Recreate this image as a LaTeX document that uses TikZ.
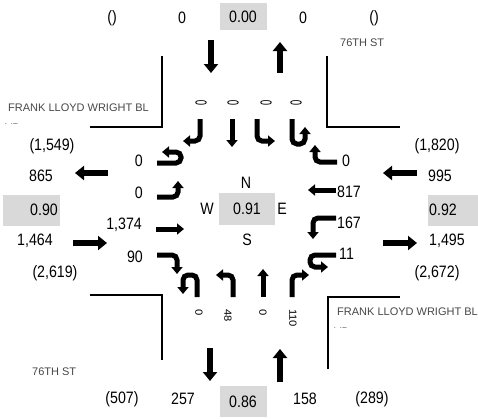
\documentclass[tikz,border=0pt]{standalone}
\usepackage{fontspec}
\usepackage{graphicx}
\setmainfont{Liberation Sans}[FakeStretch=0.86]
\newfontfamily\streetfont{Liberation Sans}
\usetikzlibrary{arrows.meta}
\tikzset{
  lbl/.style={font=\fontsize{16.5}{16.5}\selectfont, inner sep=0pt},
  gbox/.style={fill=black!15, minimum width=47pt, minimum height=27pt, inner sep=0pt, font=\fontsize{16.5}{16.5}\selectfont},
  rlbl/.style={font=\fontsize{13}{13}\selectfont, inner sep=0pt},
  tlbl/.style={font=\fontsize{16}{16}\selectfont, inner sep=0pt},
  street/.style={font=\streetfont\fontsize{11}{11}\selectfont, text=black!72, inner sep=0pt},
  curb/.style={line width=1.4pt},
  bigarrow/.style={line width=6.5pt, -{Triangle[width=14pt,length=9pt]}},
  tarrow/.style={line width=5pt, rounded corners=5pt, -{Triangle[width=11pt,length=7pt]}},
}
\begin{document}
\begin{tikzpicture}[x=1pt,y=-1pt]
\useasboundingbox (0,0) rectangle (478,418);
% curbs
\draw[curb] (162,56) -- (162,127) -- (90,127);
\draw[curb] (327,56) -- (327,127) -- (400,127);
\draw[curb] (90,295) -- (162,295) -- (162,360);
\draw[curb] (328,369) -- (328,297) -- (400,297);
% street names
\node[street, anchor=west] (fl1) at (8,108) {FRANK LLOYD WRIGHT BL};
\begin{scope}
  \clip (0,0) rectangle (160,123.5);
  \node[street, anchor=west] (vd1) at (5,128) {VD};
\end{scope}
\node[street, anchor=west] (fl2) at (337,312) {FRANK LLOYD WRIGHT BL};
\begin{scope}
  \clip (300,300) rectangle (478,327.5);
  \node[street, anchor=west] (vd2) at (334,332) {VD};
\end{scope}
\node[street, anchor=west] (st1) at (340,43) {76TH ST};
\node[street, anchor=west] (st2) at (32,372) {76TH ST};
% top row
\node[lbl] (t1) at (112,18) {()};
\node[lbl] (t2) at (182,18) {0};
\node[gbox] (t3) at (243,16.5) {0.00};
\node[lbl] (t4) at (303,18) {0};
\node[lbl] (t5) at (374,18) {()};
% bottom row
\node[lbl] (b1) at (122,399) {(507)};
\node[lbl] (b2) at (183,399) {257};
\node[gbox, minimum height=31pt] (b3) at (243,401.5) {0.86};
\node[lbl] (b4) at (305,399) {158};
\node[lbl] (b5) at (372,399) {(289)};
% left outer
\node[lbl] (l1) at (52,146) {(1,549)};
\node[lbl] (l2) at (41,176) {865};
\node[gbox, minimum width=57pt, minimum height=31pt] (l3) at (31.5,210) {};
\node[lbl, anchor=east] (l3t) at (58,210) {0.90};
\node[lbl] (l4) at (35,241) {1,464};
\node[lbl] (l5) at (55,273) {(2,619)};
% right outer
\node[lbl] (r1) at (437,146) {(1,820)};
\node[lbl, anchor=west] (r2) at (428,176) {995};
\node[gbox, minimum width=51pt, minimum height=31pt] (r3) at (453.5,210) {};
\node[lbl, anchor=west] (r3t) at (429,210) {0.92};
\node[lbl, anchor=west] (r4) at (429,241) {1,495};
\node[lbl] (r5) at (437,273) {(2,672)};
% inner left labels
\node[lbl, anchor=east] (il1) at (143,161) {0};
\node[lbl, anchor=east] (il2) at (143,193) {0};
\node[lbl, anchor=east] (il3) at (142,225) {1,374};
\node[lbl, anchor=east] (il4) at (143,257) {90};
% inner right labels
\node[lbl, anchor=west] (ir1) at (342,161) {0};
\node[lbl, anchor=west] (ir2) at (337,192) {817};
\node[lbl, anchor=west] (ir3) at (337,223) {167};
\node[lbl, anchor=west] (ir4) at (339,254) {11};
% center
\node[gbox, minimum width=56pt, minimum height=32pt] (c) at (247,209) {0.91};
\node[lbl] (cn) at (246,183) {N};
\node[lbl] (cs) at (247,240) {S};
\node[lbl] (cw) at (207,209) {W};
\node[lbl] (ce) at (282,209) {E};
% top rotated labels
\node[tlbl, rotate=90] (tr1) at (201,102.5) {\scalebox{0.68}[1]{0}};
\node[tlbl, rotate=90] (tr2) at (233,102.5) {\scalebox{0.68}[1]{0}};
\node[tlbl, rotate=90] (tr3) at (266,102.5) {\scalebox{0.68}[1]{0}};
\node[tlbl, rotate=90] (tr4) at (296,102.5) {\scalebox{0.68}[1]{0}};
% bottom rotated labels
\node[rlbl, rotate=-90, anchor=west] (br1) at (199,309) {\scalebox{1}[0.8]{0}};
\node[rlbl, rotate=-90, anchor=west] (br2) at (228,309) {\scalebox{1}[0.8]{48}};
\node[rlbl, rotate=-90, anchor=west] (br3) at (263,309) {\scalebox{1}[0.8]{0}};
\node[rlbl, rotate=-90, anchor=west] (br4) at (293,309) {\scalebox{1}[0.8]{110}};
% big approach arrows
\draw[bigarrow] (211,40) -- (211,73);
\draw[bigarrow] (280,73) -- (280,42);
\draw[bigarrow] (210,348) -- (210,381);
\draw[bigarrow] (280,382) -- (280,349);
\draw[bigarrow] (108,173) -- (75,173);
\draw[bigarrow] (73,243) -- (107,243);
\draw[bigarrow] (417,173) -- (383,173);
\draw[bigarrow] (383,243) -- (417,243);
% southbound lane arrows
\draw[tarrow] (200,119) -- (200,141) -- (183,141);
\draw[tarrow] (232,119) -- (232,147);
\draw[tarrow] (257,119) -- (257,141) -- (275,141);
\draw[tarrow] (292,119) -- (292,144) -- (305,144) -- (305,127);
% eastbound lane arrows
\draw[tarrow] (157,163) -- (181,163) -- (181,152) -- (162,152);
\draw[tarrow] (157,197) -- (178,197) -- (178,181);
\draw[tarrow] (156,229) -- (184,229);
\draw[tarrow] (157,255) -- (177,255) -- (177,274);
% westbound lane arrows
\draw[tarrow] (337,162) -- (315,162) -- (315,145);
\draw[tarrow] (336,190) -- (308,190);
\draw[tarrow] (336,218) -- (313,218) -- (313,239);
\draw[tarrow] (336,255) -- (310,255) -- (310,267) -- (328,267);
% northbound lane arrows
\draw[tarrow] (197,297) -- (197,275) -- (183,275) -- (183,294);
\draw[tarrow] (233,297) -- (233,275) -- (216,275);
\draw[tarrow] (263,297) -- (263,269);
\draw[tarrow] (292,297) -- (292,275) -- (309,275);
\end{tikzpicture}
\end{document}
